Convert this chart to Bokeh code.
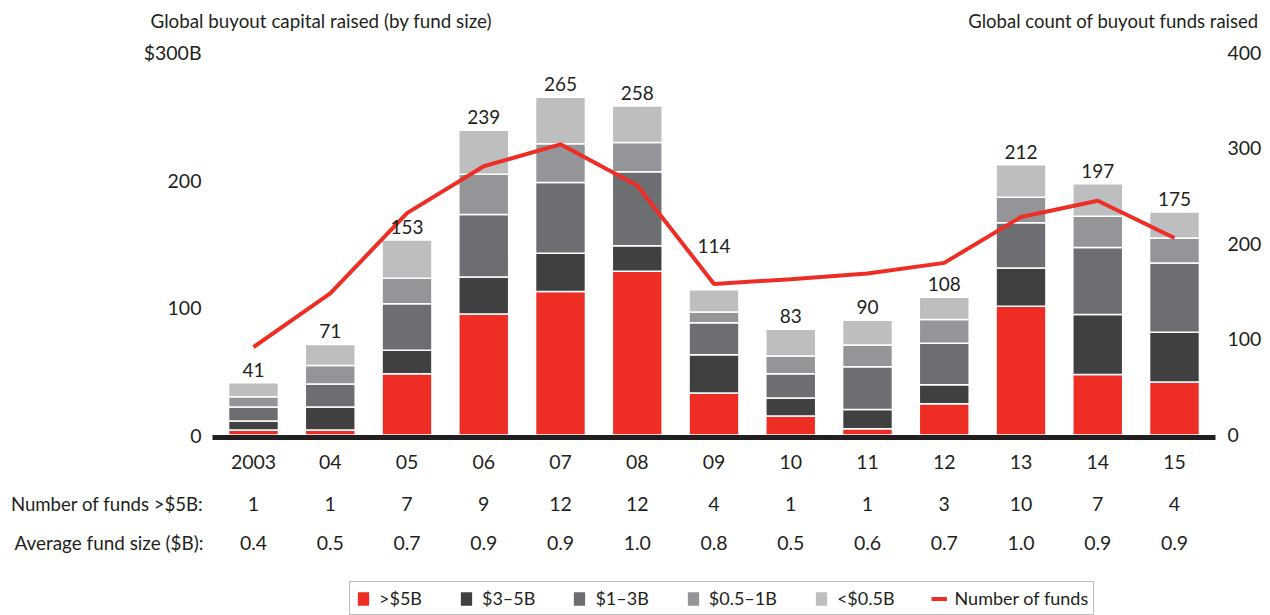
from bokeh.plotting import figure
from bokeh.models import (ColumnDataSource, LinearAxis, Range1d, FixedTicker,
                          Label, Legend, LegendItem)
from bokeh.embed import file_html
from bokeh.resources import INLINE
from bokeh.core.properties import value

years = ["2003", "04", "05", "06", "07", "08", "09", "10", "11", "12", "13", "14", "15"]
gt5 = [4, 4, 48, 95, 112.5, 128.5, 33, 15, 5, 24.5, 101, 47.5, 41.5]
b3_5 = [7, 18, 18.5, 29, 30, 20, 30, 14, 15, 15, 30, 47, 39]
b1_3 = [11, 18, 36.5, 49, 55.5, 58, 25, 19, 33.5, 32.5, 35.5, 52.5, 54.5]
b05_1 = [8, 14.5, 20, 31.5, 30.5, 23, 8.5, 14, 17, 18.5, 20, 24.5, 19.5]
lt05 = [11, 16.5, 30, 34.5, 36.5, 28.5, 17.5, 21, 19.5, 17.5, 25.5, 25.5, 20.5]
totals = [41, 71, 153, 239, 265, 258, 114, 83, 90, 108, 212, 197, 175]
num_funds = [92, 148, 232, 281, 304, 261, 158, 163, 169, 180, 228, 245, 206]
funds_gt5 = ["1", "1", "7", "9", "12", "12", "4", "1", "1", "3", "10", "7", "4"]
avg_size = ["0.4", "0.5", "0.7", "0.9", "0.9", "1.0", "0.8", "0.5", "0.6", "0.7", "1.0", "0.9", "0.9"]

series_names = [">$5B", "$3\u20135B", "$1\u20133B", "$0.5\u20131B", "<$0.5B"]
colors = ["#ee2e24", "#404040", "#6d6e71", "#939598", "#bcbec0"]
keys = ["gt5", "b3_5", "b1_3", "b05_1", "lt05"]

FONT = "Lato"
TXT = "#231f20"
W, H = 1270, 615
# plot-area geometry (canvas px)
PX0, PX1 = 212, 1215          # baseline extent
STEP = 76.75                  # px per category
C0 = 253                      # centre of first category
Y0, Y300 = 434.5, 52          # y of 0 and of 300 (left axis)
TICK_FS = "19.5px"

xs = list(range(len(years)))
# value labels sit just above each bar; the 2009 label is lifted above the line
label_offsets = [-6] * len(years)
label_offsets[years.index("09")] = -37

src = ColumnDataSource(dict(x=xs, gt5=gt5, b3_5=b3_5, b1_3=b1_3, b05_1=b05_1, lt05=lt05,
                            total=totals, nf=num_funds, yoff=label_offsets,
                            total_txt=[str(t) for t in totals]))

ppu = (Y0 - Y300) / 300.0
ppc = (Y0 - Y300) / 400.0
xr = Range1d((0 - C0) / STEP, (W - C0) / STEP)
yr = Range1d(-(H - Y0) / ppu, Y0 / ppu)
p = figure(width=W, height=H, output_backend="svg", toolbar_location=None,
           x_range=xr, y_range=yr, min_border=0)
p.extra_y_ranges = {"count": Range1d(-(H - Y0) / ppc, Y0 / ppc)}
p.outline_line_color = None
p.xgrid.visible = False
p.ygrid.visible = False
p.background_fill_color = "white"

xl = (PX0 - C0) / STEP
xrgt = (PX1 - C0) / STEP

bars = p.vbar_stack(keys, x="x", width=0.65, source=src, color=colors,
                    line_color="white", line_width=1.5)
ln = p.line("x", "nf", source=src, y_range_name="count", color="#ee2e24", line_width=4)

p.text(x="x", y="total", text="total_txt", source=src, y_offset="yoff",
       text_align="center", text_baseline="bottom", text_font=value(FONT),
       text_font_size="19px", text_color=TXT)

# axes
xa = p.xaxis[0]
xa.fixed_location = -2
xa.bounds = (xl, xrgt)
xa.ticker = FixedTicker(ticks=xs)
xa.major_label_overrides = {i: y for i, y in enumerate(years)}
xa.axis_line_width = 5
xa.axis_line_color = TXT
xa.major_tick_line_color = None
xa.minor_tick_line_color = None
xa.major_label_standoff = 11
xa.major_label_text_font = FONT
xa.major_label_text_font_size = TICK_FS
xa.major_label_text_color = TXT

ya = p.yaxis[0]
ya.fixed_location = xl
ya.ticker = FixedTicker(ticks=[0, 100, 200, 300])
ya.major_label_overrides = {300: "$300B"}
ya.axis_line_color = None
ya.major_tick_line_color = None
ya.minor_tick_line_color = None
ya.major_label_standoff = 5
ya.major_label_text_font = FONT
ya.major_label_text_font_size = TICK_FS
ya.major_label_text_color = TXT

ra = LinearAxis(y_range_name="count", ticker=FixedTicker(ticks=[0, 100, 200, 300, 400]))
ra.fixed_location = xrgt
ra.axis_line_color = None
ra.major_tick_line_color = None
ra.minor_tick_line_color = None
ra.major_label_standoff = 6
ra.major_label_text_font = FONT
ra.major_label_text_font_size = TICK_FS
ra.major_label_text_color = TXT
p.add_layout(ra, "right")

# titles
p.add_layout(Label(x=150, y=H - 20, x_units="screen", y_units="screen",
                   text="Global buyout capital raised (by fund size)", text_align="left",
                   text_baseline="middle", text_font=FONT, text_font_size="18.8px",
                   text_color=TXT))
p.add_layout(Label(x=1258, y=H - 20, x_units="screen", y_units="screen",
                   text="Global count of buyout funds raised", text_align="right",
                   text_baseline="middle", text_font=FONT, text_font_size="18.5px",
                   text_color=TXT))

# table rows
ROW1, ROW2 = H - 503, H - 542
p.add_layout(Label(x=203, y=ROW1, x_units="screen", y_units="screen",
                   text="Number of funds >$5B:", text_align="right", text_baseline="middle",
                   text_font=FONT, text_font_size="18.6px", text_color=TXT))
p.add_layout(Label(x=203, y=ROW2, x_units="screen", y_units="screen",
                   text="Average fund size ($B):", text_align="right", text_baseline="middle",
                   text_font=FONT, text_font_size="18.9px", text_color=TXT))
for i in xs:
    p.add_layout(Label(x=i, y=ROW1, x_units="data", y_units="screen", text=funds_gt5[i],
                       text_align="center", text_baseline="middle", text_font=FONT,
                       text_font_size=TICK_FS, text_color=TXT))
    p.add_layout(Label(x=i, y=ROW2, x_units="data", y_units="screen", text=avg_size[i],
                       text_align="center", text_baseline="middle", text_font=FONT,
                       text_font_size=TICK_FS, text_color=TXT))

items = [LegendItem(label=n, renderers=[r]) for n, r in zip(series_names, bars)]
items.append(LegendItem(label="Number of funds", renderers=[ln]))
legend = Legend(items=items, orientation="horizontal", location=(349, 0),
                glyph_width=16, glyph_height=19, label_standoff=8, spacing=36,
                padding=5, margin=0, border_line_color="#808080", border_line_width=1,
                label_text_font=FONT, label_text_font_size="18px", label_text_color=TXT,
                label_height=20, background_fill_alpha=1)
p.add_layout(legend, "center")

open("out.html", "w").write(file_html(p, INLINE))
